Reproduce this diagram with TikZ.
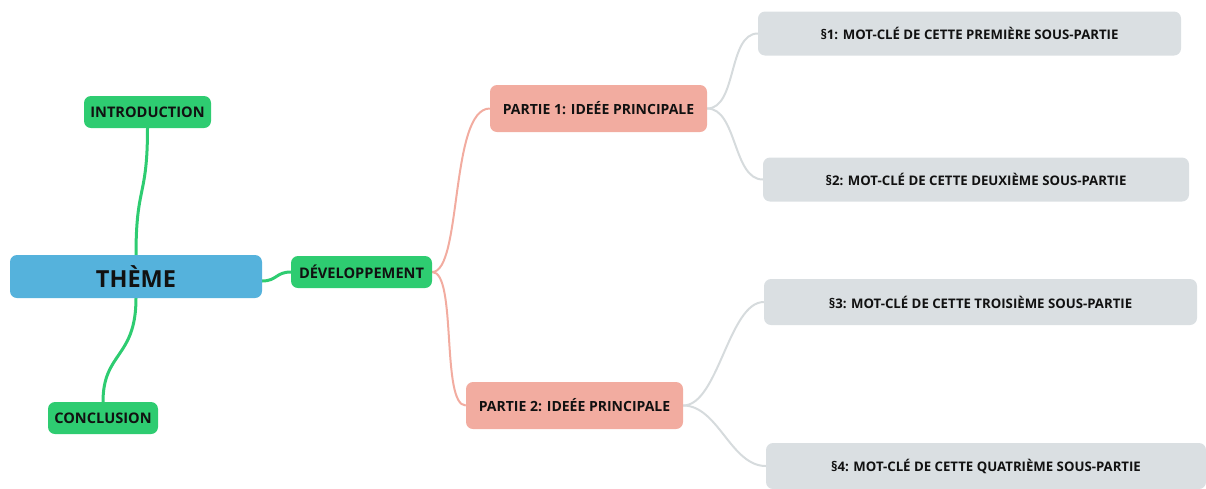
\documentclass[tikz,border=0pt]{standalone}
\usepackage{fontspec}
\setmainfont{Open Sans}
\usetikzlibrary{backgrounds}
\definecolor{themeblue}{RGB}{85,178,220}
\definecolor{mmgreen}{RGB}{46,204,113}
\definecolor{salmon}{RGB}{242,172,160}
\definecolor{greybox}{RGB}{218,223,226}
\definecolor{greyline}{RGB}{214,219,221}
\definecolor{txt}{RGB}{17,17,17}
\tikzset{
  box/.style={rounded corners=7pt, inner sep=0pt, text=txt, font=\bfseries},
  themebox/.style={box, fill=themeblue, minimum width=252pt, minimum height=43pt, font=\bfseries\fontsize{23.5}{28}\selectfont},
  greenbox/.style={box, fill=mmgreen, minimum height=32pt, font=\bfseries\fontsize{14.6}{17}\selectfont},
  partbox/.style={box, fill=salmon, minimum width=217pt, minimum height=47pt, font=\bfseries\fontsize{14}{17}\selectfont},
  subbox/.style={box, fill=greybox, minimum height=44pt, font=\bfseries\fontsize{13.2}{16}\selectfont},
  gline/.style={draw=mmgreen, line width=3pt},
  sline/.style={draw=salmon, line width=2pt},
  lline/.style={draw=greyline, line width=2pt},
}
\begin{document}
\begin{tikzpicture}[x=1pt,y=-1pt]
\clip (0,0) rectangle (1206,488);
\useasboundingbox (0,0) rectangle (1206,488);
\node[themebox] (theme) at (136,276.5) {THÈME};
\node[greenbox, minimum width=127pt] (intro) at (147.5,112) {INTRODUCTION};
\node[greenbox, minimum width=110pt] (concl) at (103,418) {CONCLUSION};
\node[greenbox, minimum width=141pt] (dev) at (361.5,272) {DÉVELOPPEMENT};
\node[partbox] (p1) at (598.5,108.5) {PARTIE 1: IDEÉE PRINCIPALE};
\node[partbox] (p2) at (574.5,405.5) {PARTIE 2: IDEÉE PRINCIPALE};
\node[subbox, minimum width=423pt] (s1) at (969.5,33.5) {§1: MOT-CLÉ DE CETTE PREMIÈRE SOUS-PARTIE};
\node[subbox, minimum width=426pt] (s2) at (976,179.5) {§2: MOT-CLÉ DE CETTE DEUXIÈME SOUS-PARTIE};
\node[subbox, minimum width=433pt, minimum height=46pt] (s3) at (980.5,302) {§3: MOT-CLÉ DE CETTE TROISIÈME SOUS-PARTIE};
\node[subbox, minimum width=440pt, minimum height=46pt] (s4) at (986,466) {§4: MOT-CLÉ DE CETTE QUATRIÈME SOUS-PARTIE};
\coordinate (tr) at (262,281);
\begin{pgfonlayer}{background}
\draw[gline] (theme.north) .. controls +(0,-70) and +(0,70) .. (intro.south);
\draw[gline] (theme.south) .. controls +(0,60) and +(0,-50) .. (concl.north);
\draw[gline] (tr) .. controls +(15,0) and +(-15,0) .. (dev.west);
\draw[sline] (dev.east) .. controls +(30,0) and +(-40,0) .. (p1.west);
\draw[sline] (dev.east) .. controls +(25,0) and +(-25,0) .. (p2.west);
\draw[lline] (p1.east) .. controls +(30,0) and +(-30,0) .. (s1.west);
\draw[lline] (p1.east) .. controls +(30,0) and +(-30,0) .. (s2.west);
\draw[lline] (p2.east) .. controls +(35,0) and +(-35,0) .. (s3.west);
\draw[lline] (p2.east) .. controls +(35,0) and +(-35,0) .. (s4.west);
\end{pgfonlayer}
\end{tikzpicture}
\end{document}
